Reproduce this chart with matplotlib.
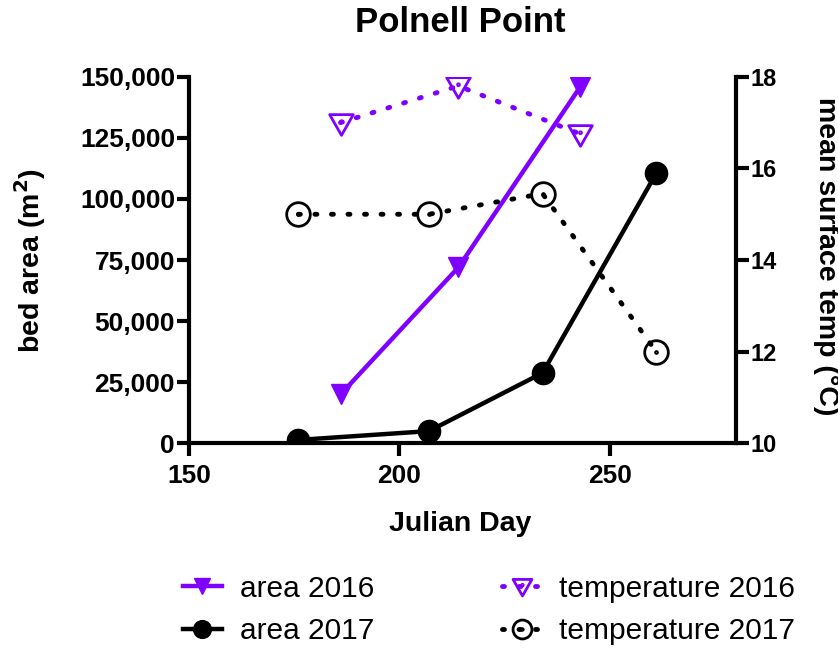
import numpy as np
import matplotlib
matplotlib.use("Agg")
import matplotlib.pyplot as plt
from matplotlib.path import Path
from matplotlib.ticker import FuncFormatter, MultipleLocator

# values
day_2016 = [186, 214, 243]
area_2016 = [20000, 72000, 146000]
temp_2016 = [17.0, 17.8, 16.75]

day_2017 = [176, 207, 234, 261]
area_2017 = [1400, 5000, 28800, 110500]
temp_2017 = [15.0, 15.0, 15.45, 12.0]

purple = '#8000ff'

plt.rcParams['font.family'] = ['Liberation Sans', 'DejaVu Sans']

# open markers with a small dot in the middle
ring = Path.circle((0, 0), 1.0)
tri = Path([(-1.0, 0.75), (1.0, 0.75), (0.0, -1.0), (-1.0, 0.75)],
           [Path.MOVETO, Path.LINETO, Path.LINETO, Path.CLOSEPOLY])
circle_dot = Path.make_compound_path(ring, Path.circle((0, 0), 0.08))
tri_dot = Path.make_compound_path(tri, Path.circle((0, 0.15), 0.08))

dotted = (0, (0.4, 3.0))

figure = plt.figure(figsize=(8.38, 6.51), dpi=100)
ax = figure.add_axes([0.2255, 0.319, 0.653, 0.563])
ax2 = ax.twinx()

l1, = ax.plot(day_2016, area_2016, color=purple, lw=3.2, marker='v', ms=15,
              label='area 2016', zorder=3)
l2, = ax.plot(day_2017, area_2017, color='black', lw=3.2, marker='o', ms=16,
              label='area 2017', zorder=3)
l3, = ax2.plot(day_2016, temp_2016, color=purple, lw=3.5, ls=dotted,
               dash_capstyle='round', marker=tri_dot, ms=17, mew=2,
               mfc='none', mec=purple, label='temperature 2016')
l4, = ax2.plot(day_2017, temp_2017, color='black', lw=3.5, ls=dotted,
               dash_capstyle='round', marker=circle_dot, ms=17, mew=2,
               mfc='none', mec='black', label='temperature 2017')

ax.set_xlim(150, 280)
ax.set_ylim(0, 150000)
ax2.set_ylim(10, 18)
ax.set_xticks([150, 200, 250])
ax.yaxis.set_major_locator(MultipleLocator(25000))
ax2.yaxis.set_major_locator(MultipleLocator(2))
ax.yaxis.set_major_formatter(FuncFormatter(lambda v, p: f'{int(v):,}'))

for a in (ax, ax2):
    a.spines['top'].set_visible(False)
    for s in a.spines.values():
        s.set_linewidth(3)
ax.spines['right'].set_visible(False)
ax2.spines['left'].set_visible(False)
ax2.spines['bottom'].set_visible(False)

ax.tick_params(axis='y', width=3, length=9, labelsize=19, pad=1)
ax.tick_params(axis='x', width=3, length=9, labelsize=19, pad=6)
ax2.tick_params(axis='y', width=3, length=9, labelsize=17, pad=1)
for lab in ax.get_xticklabels() + ax.get_yticklabels() + ax2.get_yticklabels():
    lab.set_fontweight('bold')

ax.set_xlabel('Julian Day', fontsize=20.5, fontweight='bold')
ax.set_ylabel('bed area (m$^\\mathbf{2}$)', fontsize=20.5, fontweight='bold')
ax2.set_ylabel('mean surface temp (°C)', fontsize=20.5, fontweight='bold',
               rotation=270)
# place labels where the reference has them (axes fractions)
ax.xaxis.set_label_coords(0.495, -0.22)
ax.xaxis.label.set(va='center', ha='center')
ax.yaxis.set_label_coords(-0.29, 0.5)
ax.yaxis.label.set(va='center', ha='center')
ax2.yaxis.set_label_coords(1.164, 0.51)
ax2.yaxis.label.set(va='center', ha='center')

figure.text(460 / 838, 1 - 22 / 651, 'Polnell Point', fontsize=25,
            fontweight='bold', ha='center', va='center')

figure.legend(handles=[l1, l2, l3, l4], loc='center', ncol=2,
              bbox_to_anchor=(489 / 838, 1 - 610 / 651), frameon=False,
              fontsize=21.5, handlelength=1.3, handletextpad=0.6,
              columnspacing=4.3, labelspacing=0.5, markerscale=0.8)

figure.savefig('out.png', dpi=100)
